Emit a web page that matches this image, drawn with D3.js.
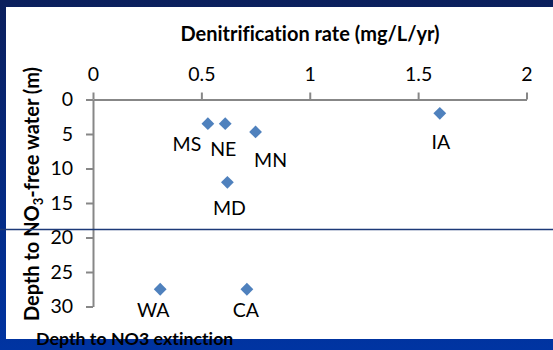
<!DOCTYPE html>
<html>
<head>
<meta charset="utf-8">
<script src="https://cdn.jsdelivr.net/npm/d3@7"></script>
<style>
  body { margin: 0; }
  svg { display: block; font-family: Lato, "Open Sans", sans-serif; font-variant-ligatures: none; }
</style>
</head>
<body>
<div class="chart"></div>
<script>
// data
var states = ["MS", "NE", "MN", "MD", "IA", "WA", "CA"];
var denitRate = [0.53, 0.61, 0.75, 0.62, 1.60, 0.31, 0.71];
var depthNo3Free = [3.5, 3.5, 4.7, 12.0, 2.0, 27.5, 27.5];
var xTicks = [0, 0.5, 1, 1.5, 2];
var yTicks = [0, 5, 10, 15, 20, 25, 30];

// where each state label sits relative to its marker (px)
var labelOffsets = [[-21, 27], [-2, 32], [15, 35], [2, 33], [1, 36], [-7, 28], [-1, 28]];

var svgWidth = 553;
var svgHeight = 350;

var svg = d3.select(".chart")
  .append("svg")
  .attr("width", svgWidth)
  .attr("height", svgHeight);

// slide background: blue gradient frame with white panel
var defs = svg.append("defs");
var grad = defs.append("linearGradient")
  .attr("id", "frame")
  .attr("x1", 0).attr("y1", 0).attr("x2", 0).attr("y2", 1);
grad.append("stop").attr("offset", "0%").attr("stop-color", "#0b1f5c");
grad.append("stop").attr("offset", "100%").attr("stop-color", "#0034a2");

svg.append("rect")
  .attr("width", svgWidth)
  .attr("height", svgHeight)
  .attr("fill", "url(#frame)");

svg.append("rect")
  .attr("x", 6)
  .attr("y", 7)
  .attr("width", svgWidth - 6)
  .attr("height", 332)
  .attr("fill", "#ffffff");

var xScale = d3.scaleLinear().domain([0, 2]).range([93, 526.5]);
var yScale = d3.scaleLinear().domain([0, 30]).range([99.5, 306.5]);

// x axis sits on top
var xAxis = svg.append("g")
  .attr("transform", "translate(0," + yScale(0) + ")")
  .call(d3.axisTop(xScale).tickValues(xTicks).tickSize(7).tickSizeOuter(0).tickPadding(12)
    .tickFormat(d3.format("")));

var yAxis = svg.append("g")
  .attr("transform", "translate(" + xScale(0) + ",0)")
  .call(d3.axisLeft(yScale).tickValues(yTicks).tickSize(7).tickSizeOuter(0).tickPadding(13));

[xAxis, yAxis].forEach(function(ax) {
  ax.select(".domain").attr("stroke", "#878787").attr("stroke-width", 2);
  ax.selectAll(".tick line").attr("stroke", "#878787").attr("stroke-width", 2);
  ax.selectAll(".tick text")
    .attr("fill", "#000")
    .style("font-size", "19.5px")
    .style("font-family", "Lato, sans-serif");
});

// markers
svg.selectAll("path.pt")
  .data(states)
  .enter()
  .append("path")
  .attr("class", "pt")
  .attr("d", d3.symbol().type(d3.symbolSquare).size(82))
  .attr("transform", function(d, i) {
    return "translate(" + xScale(denitRate[i]) + "," + yScale(depthNo3Free[i]) + ") rotate(45)";
  })
  .attr("fill", "#4f81bd");

// state labels
svg.selectAll("text.lbl")
  .data(states)
  .enter()
  .append("text")
  .attr("class", "lbl")
  .attr("x", function(d, i) { return xScale(denitRate[i]) + labelOffsets[i][0]; })
  .attr("y", function(d, i) { return yScale(depthNo3Free[i]) + labelOffsets[i][1]; })
  .attr("text-anchor", "middle")
  .style("font-size", "19.5px")
  .attr("fill", "#000")
  .text(function(d) { return d; });

// axis titles
svg.append("text")
  .attr("x", 310)
  .attr("y", 41)
  .attr("text-anchor", "middle")
  .style("font-size", "20px")
  .style("font-weight", "bold")
  .text("Denitrification rate (mg/L/yr)");

var yTitle = svg.append("text")
  .attr("transform", "translate(39,194) rotate(-90)")
  .attr("text-anchor", "middle")
  .style("font-size", "20px")
  .style("font-weight", "bold");
yTitle.append("tspan").text("Depth to NO");
yTitle.append("tspan").attr("dy", 4).style("font-size", "13px").text("3");
yTitle.append("tspan").attr("dy", -4).text("-free water (m)");

// the line drawn across the slide
svg.append("line")
  .attr("x1", 0)
  .attr("x2", svgWidth)
  .attr("y1", 229.5)
  .attr("y2", 229.5)
  .attr("stroke", "#1c3a78")
  .attr("stroke-width", 1.3);

svg.append("text")
  .attr("x", 36)
  .attr("y", 345)
  .style("font-size", "17.8px")
  .style("font-weight", "bold")
  .attr("fill", "#000")
  .text("Depth to NO3 extinction");
</script>
</body>
</html>
